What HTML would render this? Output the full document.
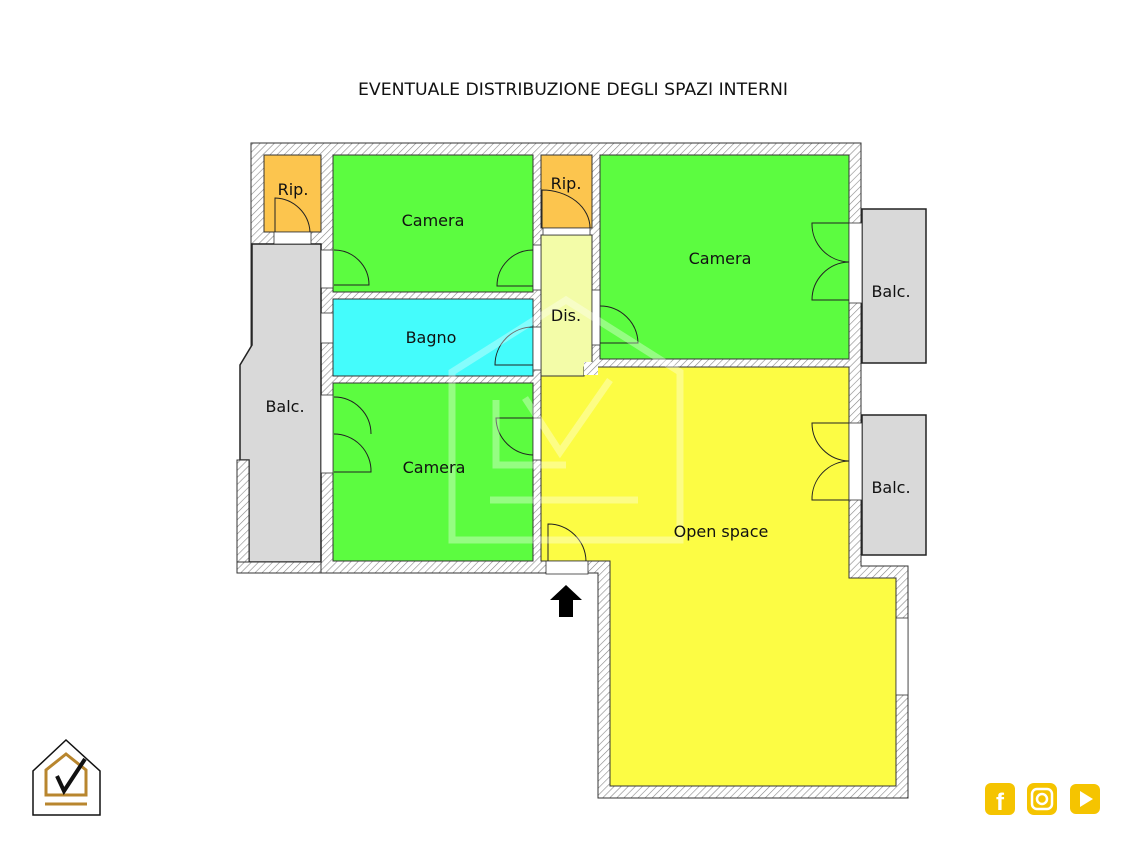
<!DOCTYPE html>
<html><head><meta charset="utf-8"><style>
html,body{margin:0;padding:0;background:#fff;width:1133px;height:850px;overflow:hidden}
svg{display:block}
text{font-family:"DejaVu Sans","Liberation Sans",sans-serif;fill:#111}
</style></head><body>
<svg width="1133" height="850" viewBox="0 0 1133 850" xmlns="http://www.w3.org/2000/svg">
<defs>
<pattern id="h" width="5" height="5" patternUnits="userSpaceOnUse" patternTransform="rotate(45)">
<rect width="5" height="5" fill="#fff"/><line x1="0" y1="0" x2="0" y2="5" stroke="#888" stroke-width="1.2"/>
</pattern>
</defs>
<text x="573" y="95" font-size="16.5" text-anchor="middle" textLength="430" lengthAdjust="spacingAndGlyphs">EVENTUALE  DISTRIBUZIONE DEGLI SPAZI INTERNI</text>

<polygon points="251,143 861,143 861,566 908,566 908,798 598,798 598,573 237,573 237,460 251,460" fill="url(#h)" stroke="#333" stroke-width="1"/>
<polygon points="252,244 321,244 321,562 249,562 249,460 240,460 240,365 252,345" fill="#d9d9d9" stroke="#222" stroke-width="1.5"/>
<rect x="237" y="460" width="12" height="113" fill="url(#h)" stroke="#333"/>
<rect x="237" y="562" width="84" height="11" fill="url(#h)" stroke="#333"/>

<g stroke="#333" stroke-width="1">
<rect x="264" y="155" width="57" height="77" fill="#fcc54e"/>
<rect x="333" y="155" width="200" height="137" fill="#5cfc40"/>
<rect x="541" y="155" width="51" height="73" fill="#fcc54e"/>
<rect x="600" y="155" width="249" height="204" fill="#5cfc40"/>
<rect x="333" y="299" width="200" height="77" fill="#44fcfc"/>
<rect x="541" y="235" width="51" height="141" fill="#f3fca8"/>
<rect x="333" y="383" width="200" height="178" fill="#5cfc40"/>
<polygon points="541,376 584,376 584,367 849,367 849,578 896,578 896,786 610,786 610,561 541,561" fill="#fcfc44"/>
<rect x="584" y="362" width="14" height="13" fill="url(#h)" stroke="none"/>
<rect x="862" y="209" width="64" height="154" fill="#d9d9d9" stroke="#222" stroke-width="1.5"/>
<rect x="862" y="415" width="64" height="140" fill="#d9d9d9" stroke="#222" stroke-width="1.5"/>
</g>

<g fill="#fff" stroke="#333" stroke-width="0.8">
<rect x="274" y="232" width="37" height="12"/>
<rect x="543" y="228" width="47" height="7"/>
<rect x="321" y="250" width="12" height="38"/>
<rect x="321" y="313" width="12" height="30"/>
<rect x="321" y="395" width="12" height="78"/>
<rect x="533" y="245" width="8" height="45"/>
<rect x="533" y="327" width="8" height="43"/>
<rect x="533" y="418" width="8" height="42"/>
<rect x="592" y="290" width="8" height="55"/>
<rect x="849" y="223" width="13" height="80"/>
<rect x="849" y="423" width="13" height="77"/>
<rect x="896" y="618" width="12" height="77"/>
<rect x="546" y="561" width="42" height="13"/>
</g>

<g fill="none" stroke="#222" stroke-width="1">
<path d="M275,232 V198 A36,36 0 0 1 310,232"/>
<path d="M542,228 V190 A48,38 0 0 1 590,228"/>
<path d="M334,250 A35,35 0 0 1 369,285 H334"/>
<path d="M533,250 A36,36 0 0 0 497,286 H533"/>
<path d="M533,327 A38,38 0 0 0 495,365 H533"/>
<path d="M600,306 A38,38 0 0 1 638,343 H600"/>
<path d="M334,397 A37,37 0 0 1 371,434 M334,434 A37,37 0 0 1 371,472 H334"/>
<path d="M533,418 H496 A38,38 0 0 0 533,455"/>
<path d="M849,223 H812 A38,38 0 0 0 849,262 A38,38 0 0 0 812,300 H849"/>
<path d="M849,423 H812 A38,38 0 0 0 849,461 A38,38 0 0 0 812,500 H849"/>
<path d="M548,561 V524 A38,38 0 0 1 586,561"/>
</g>

<g fill="none" stroke="#fff" stroke-opacity="0.35" stroke-width="7">
<polygon points="452,540 452,372 566,300 680,372 680,540"/>
<polyline points="496,400 496,465 566,465"/>
<polyline points="525,398 560,452 610,380"/>
<line x1="490" y1="500" x2="638" y2="500"/>
</g>

<polygon points="566,585 582,600 573,600 573,617 559,617 559,600 550,600" fill="#000"/>

<g font-size="16" text-anchor="middle">
<text x="293" y="195">Rip.</text>
<text x="566" y="189">Rip.</text>
<text x="433" y="226">Camera</text>
<text x="720" y="264">Camera</text>
<text x="431" y="343">Bagno</text>
<text x="566" y="321">Dis.</text>
<text x="434" y="473">Camera</text>
<text x="721" y="537">Open space</text>
<text x="285" y="412">Balc.</text>
<text x="891" y="297">Balc.</text>
<text x="891" y="493">Balc.</text>
</g>

<polygon points="33,815 33,771 66,740 100,771 100,815" fill="#fff" stroke="#111" stroke-width="1.5"/>
<polygon points="46,795 46,770 66,754 86,770 86,795" fill="none" stroke="#b8862e" stroke-width="3"/>
<line x1="45" y1="804" x2="87" y2="804" stroke="#b8862e" stroke-width="3"/>
<polyline points="57,776 64,791 85,759" fill="none" stroke="#111" stroke-width="4"/>

<rect x="985" y="783" width="30" height="32" rx="6" fill="#f5c400"/>
<text x="1000" y="810" font-size="24" font-weight="bold" text-anchor="middle" style="fill:#fff;font-family:'Liberation Sans',sans-serif">f</text>
<rect x="1027" y="783" width="30" height="32" rx="7" fill="#f5c400"/>
<rect x="1032" y="789" width="20" height="20" rx="5" fill="none" stroke="#fff" stroke-width="2.5"/>
<circle cx="1042" cy="799" r="5" fill="none" stroke="#fff" stroke-width="2.5"/>
<rect x="1070" y="784" width="30" height="30" rx="6" fill="#f5c400"/>
<polygon points="1080,791 1080,807 1093,799" fill="#fff"/>
</svg>
</body></html>
